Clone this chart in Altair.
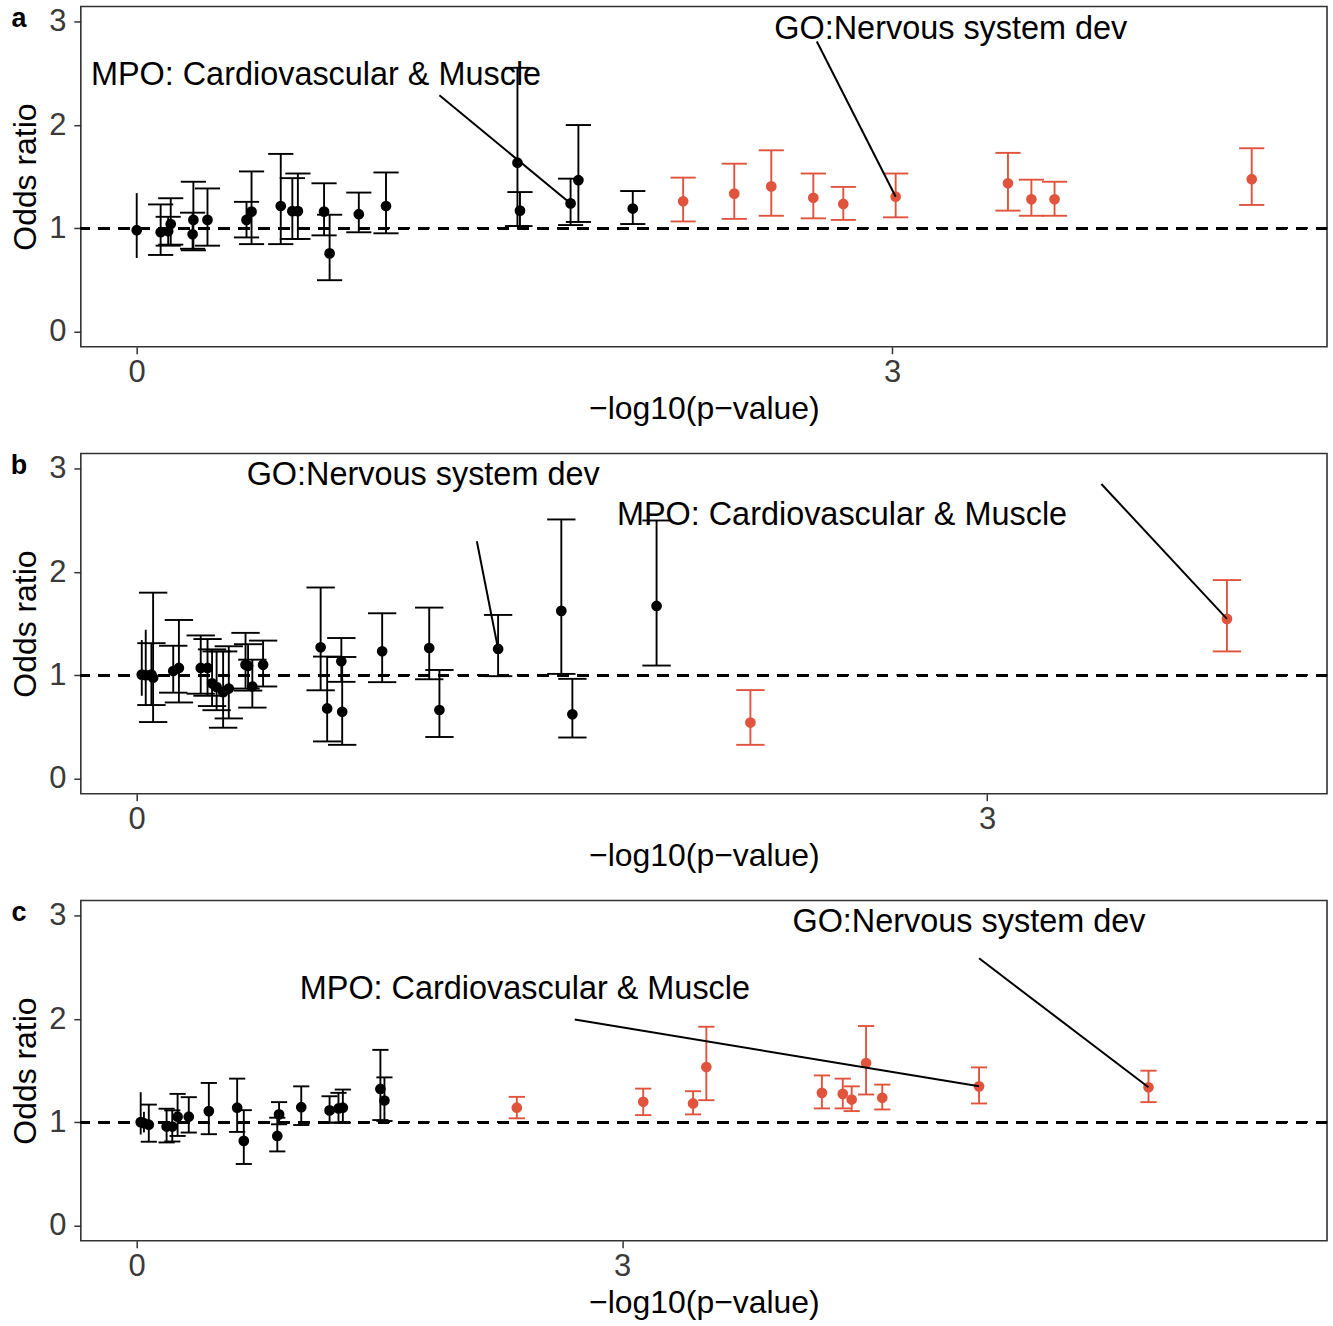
import altair as alt
import pandas as pd

RED = "#E0533D"
FONT = "Liberation Sans"

# ---------------- Panel a ----------------
a_p = [0.0, 0.095, 0.125, 0.135, 0.222, 0.225, 0.281, 0.436, 0.456, 0.572, 0.618, 0.64, 0.744, 0.766,
       0.882, 0.99, 1.512, 1.522, 1.723, 1.754, 1.97, 2.17, 2.373, 2.52, 2.687, 2.806, 3.014, 3.46,
       3.553, 3.645, 4.428]
a_or = [0.98, 0.96, 0.97, 1.04, 0.94, 1.08, 1.08, 1.08, 1.16, 1.215, 1.165, 1.165, 1.16, 0.755,
        1.135, 1.215, 1.635, 1.17, 1.24, 1.465, 1.19, 1.26, 1.335, 1.405, 1.295, 1.235, 1.305, 1.435,
        1.28, 1.28, 1.475]
a_lo = [0.71, 0.74, 0.83, 0.84, 0.80, 0.785, 0.83, 0.91, 0.845, 0.845, 0.895, 0.895, 0.93, 0.495,
        0.96, 0.95, 1.02, 1.02, 1.03, 1.06, 1.04, 1.065, 1.09, 1.12, 1.095, 1.08, 1.105, 1.17,
        1.12, 1.12, 1.225]
a_hi = [1.34, 1.23, 1.11, 1.29, 1.15, 1.45, 1.385, 1.255, 1.55, 1.72, 1.485, 1.53, 1.435, 1.13,
        1.345, 1.54, 2.555, 1.35, 1.48, 2.0, 1.36, 1.49, 1.625, 1.755, 1.53, 1.40, 1.53, 1.73,
        1.47, 1.45, 1.775]
a_labels = ["MPO: Cardiovascular & Muscle", "GO:Nervous system dev"]
a_text_x = [-0.182, 2.532]
a_text_y = [2.49, 2.936]
a_seg_x = [1.202, 2.701]
a_seg_y = [2.288, 2.81]
a_end_x = [1.723, 3.014]
a_end_y = [1.24, 1.305]
a_xdom = [-0.222, 4.727]

# ---------------- Panel b ----------------
b_p = [0.018, 0.032, 0.052, 0.058, 0.129, 0.149, 0.226, 0.25, 0.266, 0.282, 0.305, 0.325, 0.384,
       0.393, 0.408, 0.446, 0.649, 0.672, 0.722, 0.725, 0.866, 1.032, 1.068, 1.275, 1.498, 1.537,
       1.834, 2.165, 3.846]
b_or = [1.005, 1.0, 1.005, 0.975, 1.04, 1.07, 1.07, 1.07, 0.92, 0.885, 0.835, 0.87, 1.10,
        1.09, 0.89, 1.10, 1.27, 0.677, 1.134, 0.645, 1.231, 1.263, 0.662, 1.254, 1.623, 0.62,
        1.671, 0.54, 1.546]
b_lo = [0.80, 0.70, 0.71, 0.545, 0.83, 0.735, 0.82, 0.80, 0.70, 0.66, 0.49, 0.58, 0.87,
        0.85, 0.685, 0.89, 0.853, 0.357, 0.935, 0.324, 0.932, 0.96, 0.40, 0.99, 1.012, 0.395,
        1.093, 0.324, 1.23]
b_hi = [1.34, 1.44, 1.31, 1.80, 1.285, 1.535, 1.385, 1.35, 1.25, 1.23, 1.23, 1.28, 1.41,
        1.30, 1.15, 1.335, 1.85, 1.18, 1.36, 1.176, 1.60, 1.655, 1.05, 1.584, 2.51, 0.964,
        2.50, 0.855, 1.922]
b_labels = ["GO:Nervous system dev", "MPO: Cardiovascular & Muscle"]
b_text_x = [0.388, 1.694]
b_text_y = [2.944, 2.549]
b_seg_x = [1.2, 3.403]
b_seg_y = [2.298, 2.854]
b_end_x = [1.275, 3.846]
b_end_y = [1.254, 1.546]
b_xdom = [-0.197, 4.199]

# ---------------- Panel c ----------------
c_p = [0.025, 0.045, 0.075, 0.185, 0.22, 0.253, 0.322, 0.446, 0.621, 0.662, 0.869, 0.88, 1.017,
       1.192, 1.247, 1.274, 1.506, 1.531, 2.349, 3.13, 3.438, 3.52, 4.234, 4.363, 4.418, 4.507,
       4.607, 5.205, 6.252]
c_or = [1.0, 0.99, 0.975, 0.957, 0.957, 1.053, 1.053, 1.107, 1.14, 0.818, 0.866, 1.075, 1.145,
        1.114, 1.133, 1.14, 1.322, 1.21, 1.14, 1.197, 1.181, 1.534, 1.284, 1.274, 1.219, 1.573,
        1.236, 1.347, 1.338]
c_lo = [0.88, 0.90, 0.81, 0.803, 0.812, 0.866, 0.899, 0.883, 0.905, 0.594, 0.716, 0.979, 0.972,
        0.995, 0.995, 0.995, 1.02, 1.011, 1.037, 1.068, 1.075, 1.213, 1.133, 1.133, 1.107, 1.268,
        1.123, 1.181, 1.194]
c_hi = [1.29, 1.10, 1.17, 1.13, 1.114, 1.274, 1.242, 1.38, 1.422, 1.116, 1.043, 1.194, 1.347,
        1.251, 1.284, 1.316, 1.701, 1.434, 1.245, 1.325, 1.30, 1.925, 1.453, 1.422, 1.347, 1.932,
        1.364, 1.531, 1.499]
c_labels = ["MPO: Cardiovascular & Muscle", "GO:Nervous system dev"]
c_text_x = [1.008, 4.052]
c_text_y = [2.288, 2.943]
c_seg_x = [2.707, 5.205]
c_seg_y = [1.996, 2.589]
c_end_x = [5.205, 6.252]
c_end_y = [1.347, 1.338]
c_xdom = [-0.345, 7.355]

Y_DOM = [-0.15, 3.15]
W, H = 1249, 341


def panel(p, orv, lo, hi, labels, tx, ty, sx, sy, ex, ey, xdom, letter):
    df = pd.DataFrame({"p": p, "or": orv, "lo": lo, "hi": hi})
    ann = pd.DataFrame({"label": labels, "tx": tx, "ty": ty, "sx": sx, "sy": sy, "ex": ex, "ey": ey})

    xs = alt.Scale(domain=xdom, nice=False, zero=False)
    ys = alt.Scale(domain=Y_DOM, nice=False, zero=False)
    xax = alt.Axis(values=[0, 3], title="\u2212log10(p\u2212value)", format="d", grid=False,
                   labelPadding=4, titlePadding=6)
    yax = alt.Axis(values=[0, 1, 2, 3], title="Odds ratio", format="d", grid=False,
                   labelPadding=8, titlePadding=6)

    def X(f):
        return alt.X(f, type="quantitative", scale=xs, axis=xax)

    def Y(f):
        return alt.Y(f, type="quantitative", scale=ys, axis=yax)

    base = alt.Chart(df).transform_calculate(
        col=f"datum.p > 2 ? '{RED}' : '#000000'"
    )
    color = alt.Color("col:N", scale=None)

    hline = base.transform_calculate(one="1").mark_rule(
        strokeDash=[11, 9], strokeWidth=2.4, color="#000000"
    ).encode(y=Y("one"))

    bars = base.mark_rule(strokeWidth=1.9).encode(
        x=X("p"), y=Y("lo"), y2="hi", color=color
    )

    caps = base.transform_filter("datum.p >= 0.05").transform_fold(
        ["lo", "hi"], as_=["k", "v"]
    ).transform_calculate(
        xa="datum.p - 0.05", xb="datum.p + 0.05"
    ).mark_rule(strokeWidth=1.9).encode(
        x=X("xa"), x2="xb", y=Y("v"), color=color
    )

    pts = base.mark_circle(size=115, opacity=1).encode(
        x=X("p"), y=Y("or"), color=color
    )

    segs = alt.Chart(ann).mark_rule(strokeWidth=2, color="#000000").encode(
        x=X("sx"), y=Y("sy"), x2="ex", y2="ey"
    )

    texts = alt.Chart(ann).mark_text(
        align="left", baseline="middle", fontSize=32.5, font=FONT, color="#000000"
    ).encode(x=X("tx"), y=Y("ty"), text="label:N")

    let = alt.Chart(pd.DataFrame({"t": [letter]})).mark_text(
        align="center", baseline="alphabetic", fontSize=27, fontWeight="bold",
        font=FONT, color="#000000"
    ).encode(x=alt.value(-62), y=alt.value(21), text="t:N")

    return alt.layer(hline, bars, caps, pts, segs, texts, let).properties(width=W, height=H)


pa = panel(a_p, a_or, a_lo, a_hi, a_labels, a_text_x, a_text_y, a_seg_x, a_seg_y,
           a_end_x, a_end_y, a_xdom, "a")
pb = panel(b_p, b_or, b_lo, b_hi, b_labels, b_text_x, b_text_y, b_seg_x, b_seg_y,
           b_end_x, b_end_y, b_xdom, "b")
pc = panel(c_p, c_or, c_lo, c_hi, c_labels, c_text_x, c_text_y, c_seg_x, c_seg_y,
           c_end_x, c_end_y, c_xdom, "c")

chart = alt.vconcat(pa, pb, pc, spacing=26).properties(
    padding={"left": 8, "top": 3, "right": 4, "bottom": 4}
).configure_view(
    stroke="#333333", strokeWidth=1.6
).configure_axis(
    domain=False,
    tickColor="#333333", tickWidth=1.5, tickSize=7,
    labelFont=FONT, labelFontSize=31, labelColor="#3a3a3a",
    titleFont=FONT, titleFontSize=32, titleFontWeight="normal", titleColor="#000000",
)

chart.save("out.html", embed_options={"renderer": "svg", "actions": False})
